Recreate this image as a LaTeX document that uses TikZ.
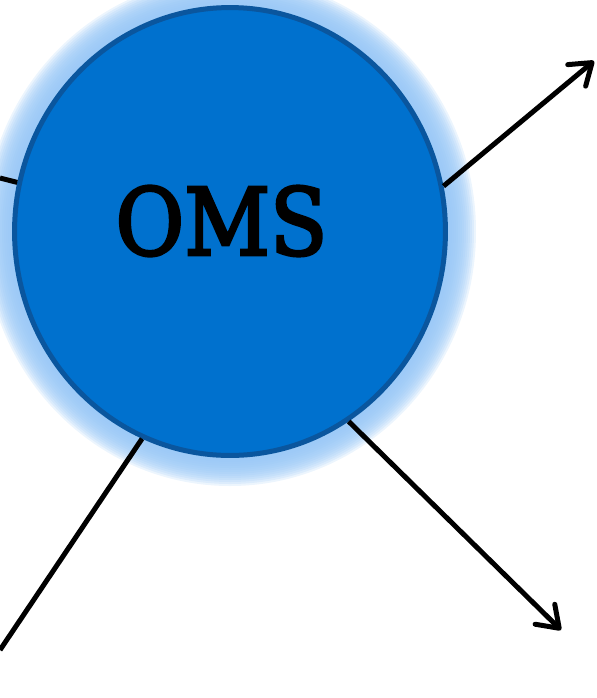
\documentclass[tikz,border=0pt]{standalone}
\usepackage{fontspec}
\newfontfamily\omsfont{DejaVu Serif Condensed}[FakeBold=3]
\usetikzlibrary{arrows.meta,shapes.geometric}

\definecolor{omsfill}{RGB}{0,113,206}
\definecolor{omsedge}{RGB}{10,86,158}
\definecolor{omsglow}{RGB}{150,198,246}

\begin{document}
\begin{tikzpicture}[
		x=0.02cm, y=-0.02cm,
		link/.style={line width=0.1cm, black},
		outlink/.style={link, -{Straight Barb[length=0.4cm, width=0.56cm, line width=0.1cm, round]}},
	]
	\useasboundingbox (0,0) rectangle (597,698);

	% soft halo round the hub
	\foreach \g in {14,...,1}
		\fill[omsglow, opacity=0.18] (230,231.5) ellipse [x radius=218+2*\g, y radius=226.5+2*\g];

	\node (oms) [ellipse, draw=omsedge, line width=0.1cm, fill=omsfill,
		minimum width=8.62cm, minimum height=8.96cm, inner sep=0] at (230,231.5) {};
	\node (omstext) at (221.5,221) [inner sep=0, font=\omsfont\fontsize{53}{60}\selectfont] {OMS};

	\coordinate (west) at (0,178);
	\coordinate (northeast) at (594,61);
	\coordinate (southwest) at (0,650);
	\coordinate (southeast) at (561,630);

	\draw[link] (oms.167.9) -- (west);
	\draw[outlink] (oms.12.6) -- (northeast);
	\draw[link] (oms.247.1) -- (southwest);
	\draw[outlink] (oms.302.8) -- (southeast);
\end{tikzpicture}
\end{document}
